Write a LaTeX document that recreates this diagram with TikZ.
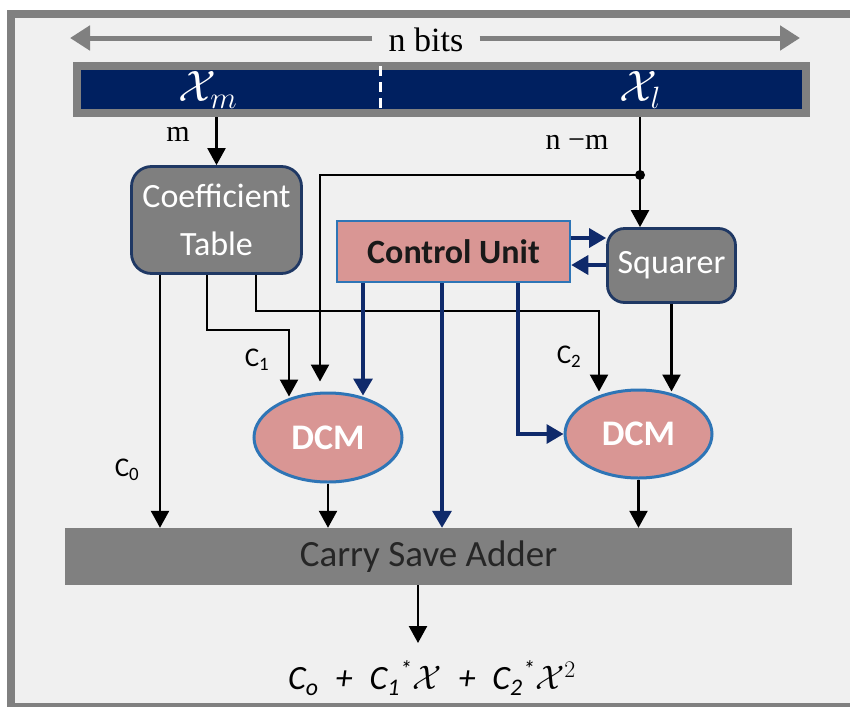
\RequirePackage{fix-cm}
\documentclass[tikz,border=0pt]{standalone}
\usepackage{fontspec}
\setmainfont{Carlito}
\newfontfamily\bitsfont{Liberation Serif}
\usetikzlibrary{arrows.meta,shapes.geometric}
\definecolor{panel}{HTML}{F0F0F0}
\definecolor{frame}{HTML}{808080}
\definecolor{busblue}{HTML}{002060}
\definecolor{blockgray}{HTML}{7F7F7F}
\definecolor{edgenavy}{HTML}{1F3864}
\definecolor{unitpink}{HTML}{D99694}
\definecolor{unitedge}{HTML}{2E75B6}
\definecolor{ctrlblue}{HTML}{0F2A6B}

\tikzset{
  wire/.style={line width=2.4pt,-{Triangle[length=17pt,width=18pt]}},
  ctrl/.style={draw=ctrlblue,line width=3.4pt,-{Triangle[length=17pt,width=19pt,fill=ctrlblue]}},
  bitspan/.style={draw=frame,line width=5pt,-{Triangle[length=20pt,width=24pt]}},
  block/.style={rectangle,rounded corners=20pt,fill=blockgray,draw=edgenavy,line width=2.8pt,
    text=white,inner sep=0pt,align=center,font=\fontsize{34}{48}\selectfont},
  dcm/.style={ellipse,fill=unitpink,draw=unitedge,line width=3pt,inner sep=0pt,
    minimum width=148pt,minimum height=89pt,text=white,font=\bfseries\fontsize{36}{40}\selectfont},
  clabel/.style={font=\fontsize{27}{30}\selectfont},
  blabel/.style={font=\bitsfont\fontsize{30}{32}\selectfont},
}

\begin{document}
\begin{tikzpicture}[x=1pt,y=-1pt]
\useasboundingbox (0,0) rectangle (850,707);
%%%FRAME
\fill[white] (0,0) rectangle (850,707);
\fill[frame] (7,10) rectangle (850,707);
\fill[panel] (15,18) rectangle (850,703);

%%%INPUT WORD
\coordinate (spanL) at (70,38);
\coordinate (spanR) at (800,38);
\node[font=\bitsfont\fontsize{34}{36}\selectfont,inner xsep=16pt] (nbits) at (426,40) {n bits};
\draw[bitspan] (nbits.west |- spanL) -- (spanL);
\draw[bitspan] (nbits.east |- spanR) -- (spanR);
\node[draw=frame,line width=8pt,fill=busblue,minimum width=729pt,minimum height=47pt,inner sep=0pt] (bar) at (441.5,89.5) {};
\draw[white,line width=3pt,dash pattern=on 10pt off 6pt] ([xshift=-61.5pt,yshift=-4pt]bar.north) -- ([xshift=-61.5pt,yshift=4pt]bar.south);
\node[text=white,font=\fontsize{44}{44}\selectfont] (xm) at (208,90) {$\mathcal{X}_m$};
\node[text=white,font=\fontsize{44}{44}\selectfont] (xl) at (640,90) {$\mathcal{X}_l$};

%%%BLOCKS
\node[block,minimum width=170pt,minimum height=107pt] (coef) at (216.5,220) {Coefficient\\Table};
\node[block,rounded corners=17pt,minimum width=128pt,minimum height=74pt] (squarer) at (671.5,265.5) {Squarer};
\node[fill=unitpink,draw=unitedge,line width=2.5pt,minimum width=233pt,minimum height=61pt,inner sep=0pt,
  text=black!90,font=\bfseries\fontsize{34}{40}\selectfont] (cu) at (453.5,251.5) {Control Unit};
\node[dcm] (dcm1) at (328,437.5) {DCM};
\node[dcm,minimum width=147pt,minimum height=88pt] (dcm2) at (638.5,434) {DCM};
\node[fill=frame,minimum width=727pt,minimum height=57pt,inner sep=0pt,text=black!85,
  font=\fontsize{37}{40}\selectfont] (csa) at (428.5,556.5) {Carry Save Adder};
\coordinate (sum) at (418,643);
\node[font=\itshape\fontsize{34}{40}\selectfont] (poly) at (432,678)
  {C\textsubscript{o}\enspace+\enspace C\textsubscript{1}\textsuperscript{*}$\mathcal{X}$\enspace+\enspace C\textsubscript{2}\textsuperscript{*}$\mathcal{X}^{2}$};

%%%LABELS
\node[blabel] (mlab) at (178,134) {m};
\node[blabel] (nmlab) at (577,142) {n −m};
\node[clabel] (c0lab) at (127,470) {C\textsubscript{0}};
\node[clabel] (c1lab) at (257,360) {C\textsubscript{1}};
\node[clabel] (c2lab) at (569,357) {C\textsubscript{2}};

%%%DATA WIRES
\coordinate (split) at (640,175);
\draw[wire] (coef.north |- bar.south) -- (coef.north);
\draw[line width=2.4pt] (bar.south -| split) -- (split);
\draw[wire] (split) -- (split |- squarer.north);
\draw[wire] (split) -| ([xshift=-8pt,yshift=10pt]dcm1.north);
\fill (split) circle (5pt);
\draw[wire] ([xshift=-56.5pt]coef.south) -- ([xshift=-56.5pt]coef.south |- csa.north);
\draw[wire] ([xshift=-9.5pt]coef.south) -- ++(0,55) -| ([xshift=-39pt,yshift=-5pt]dcm1.north);
\draw[wire] ([xshift=39.5pt]coef.south) -- ++(0,36) -| ([xshift=-39.5pt,yshift=-3pt]dcm2.north);
\draw[wire] (squarer.south) -- ([xshift=33pt,yshift=-3pt]dcm2.north);
\draw[wire] (dcm1.south) -- (dcm1.south |- csa.north);
\draw[wire] (dcm2.south) -- (dcm2.south |- csa.north);
\draw[wire] ([xshift=-10.5pt]csa.south) -- (sum);

%%%CONTROL WIRES
\draw[ctrl] ([xshift=-90.5pt]cu.south) -- ([xshift=35pt,yshift=-4pt]dcm1.north);
\draw[ctrl] ([xshift=-11.5pt]cu.south) -- ([xshift=-11.5pt]cu.south |- csa.north);
\draw[ctrl] ([xshift=64.5pt]cu.south) |- (dcm2.west);
\draw[ctrl] ([yshift=13.5pt]cu.east) -- ([yshift=13.5pt]cu.east -| squarer.west);
\draw[ctrl] ([yshift=-13.5pt]cu.east -| squarer.west) -- ([yshift=-13.5pt]cu.east);
\end{tikzpicture}
\end{document}
